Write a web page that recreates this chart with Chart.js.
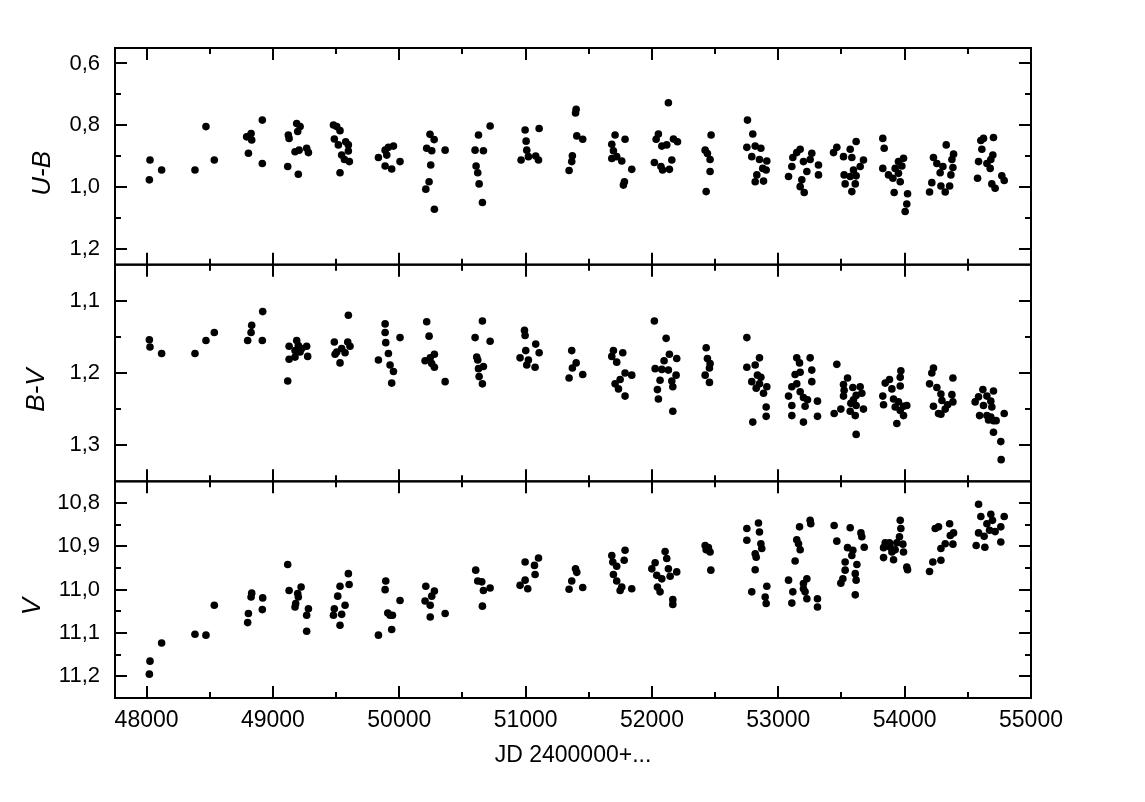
<!DOCTYPE html>
<html>
<head>
<meta charset="utf-8">
<title>U-B, B-V, V</title>
<script src="https://cdn.jsdelivr.net/npm/chart.js@4/dist/chart.umd.min.js"></script>
<style>
  html, body { margin: 0; padding: 0; background: #fff; }
  canvas { display: block; }
</style>
</head>
<body>
<canvas id="chart" width="1145" height="802"></canvas>
<script>
// tick labels
var jdTicks = [48000, 49000, 50000, 51000, 52000, 53000, 54000, 55000];
var ubTicks = [0.6, 0.8, 1.0, 1.2];
var bvTicks = [1.1, 1.2, 1.3];
var vTicks = [10.8, 10.9, 11.0, 11.1, 11.2];

// U-B
var ubJD = [
  48022, 48027, 48119, 48383, 48470, 48536,
  48792, 48806, 48827, 48832, 48916, 48916,
  49117, 49122, 49128, 49175, 49188, 49196, 49201, 49207, 49215, 49267, 49281,
  49479, 49486, 49505, 49518, 49531, 49531, 49544, 49566, 49576, 49597, 49597, 49605,
  49835, 49888, 49888, 49901, 49914, 49940, 49954, 50006,
  50210, 50217, 50236, 50243, 50249, 50257, 50276, 50278, 50363,
  50600, 50608, 50621, 50627, 50632, 50658, 50666, 50719,
  50964, 50996, 51004, 51009, 51022, 51080, 51102, 51107,
  51344, 51365, 51370, 51395, 51400, 51405, 51452,
  51682, 51682, 51695, 51708, 51721, 51761, 51774, 51782, 51787, 51840,
  52019, 52033, 52051, 52071, 52078, 52084, 52117, 52130, 52138, 52157, 52170, 52202,
  52421, 52429, 52439, 52460, 52460, 52468,
  52751, 52756, 52790, 52798, 52817, 52817, 52830, 52851, 52862, 52877, 52883, 52904, 52909,
  53081, 53107, 53115, 53146, 53173, 53173, 53186, 53199, 53205, 53226, 53252, 53265, 53318, 53318,
  53437, 53463, 53516, 53521, 53529, 53569, 53569, 53582, 53582, 53595, 53609, 53616, 53616, 53648, 53674,
  53827, 53827, 53838, 53872, 53907, 53917, 53925, 53951, 53951, 53965, 53978, 53991, 54004, 54017, 54023,
  54197, 54215, 54228, 54255, 54281, 54287, 54303, 54321, 54329, 54356, 54366, 54374, 54382, 54387,
  54577, 54585, 54603, 54611, 54624, 54651, 54677, 54682, 54690, 54698, 54703, 54716, 54769, 54788
];
var ubMag = [
  0.976, 0.912, 0.944, 0.944, 0.804, 0.912,
  0.837, 0.890, 0.826, 0.847, 0.783, 0.923,
  0.933, 0.831, 0.842, 0.885, 0.794, 0.820, 0.958, 0.880, 0.804, 0.874, 0.888,
  0.799, 0.844, 0.804, 0.863, 0.817, 0.953, 0.896, 0.910, 0.853, 0.863, 0.883, 0.917,
  0.904, 0.880, 0.931, 0.896, 0.871, 0.941, 0.867, 0.917,
  1.006, 0.874, 0.982, 0.829, 0.928, 0.882, 0.846, 1.071, 0.880,
  0.880, 0.931, 0.953, 0.831, 0.989, 1.049, 0.882, 0.802,
  0.912, 0.815, 0.851, 0.880, 0.901, 0.899, 0.912, 0.810,
  0.946, 0.917, 0.898, 0.760, 0.748, 0.834, 0.845,
  0.861, 0.907, 0.882, 0.831, 0.901, 0.915, 0.993, 0.982, 0.845, 0.942,
  0.920, 0.845, 0.828, 0.933, 0.867, 0.944, 0.863, 0.727, 0.942, 0.912, 0.844, 0.853,
  0.880, 1.014, 0.891, 0.910, 0.949, 0.831,
  0.871, 0.783, 0.901, 0.828, 0.867, 0.982, 0.960, 0.910, 0.874, 0.939, 0.980, 0.944, 0.915,
  0.965, 0.933, 0.904, 0.888, 0.877, 0.998, 0.976, 0.917, 1.017, 0.949, 0.910, 0.890, 0.928, 0.960,
  0.888, 0.871, 0.901, 0.960, 0.989, 0.877, 0.965, 0.904, 1.014, 0.944, 0.989, 0.852, 0.963, 0.933, 0.912,
  0.842, 0.939, 0.874, 0.960, 0.971, 1.017, 0.939, 0.917, 0.955, 0.982, 0.931, 0.906, 1.078, 1.054, 1.021,
  1.015, 0.985, 0.904, 0.923, 0.953, 0.996, 0.933, 1.015, 0.863, 0.996, 0.960, 0.910, 0.936, 0.893,
  0.971, 0.917, 0.849, 0.877, 0.842, 0.923, 0.939, 0.910, 0.989, 0.896, 0.839, 1.003, 0.963, 0.978
];

// B-V
var bvJD = [
  48022, 48027, 48119, 48383, 48470, 48536,
  48800, 48827, 48832, 48916, 48919,
  49117, 49128, 49128, 49175, 49175, 49188, 49201, 49215, 49228, 49267, 49275,
  49486, 49492, 49505, 49531, 49544, 49571, 49592, 49597, 49610,
  49835, 49888, 49888, 49893, 49914, 49927, 49940, 49954, 50006,
  50204, 50217, 50236, 50245, 50257, 50278, 50278, 50363,
  50600, 50613, 50621, 50627, 50632, 50658, 50658, 50666, 50719,
  50956, 50991, 50996, 51001, 51009, 51022, 51075, 51080, 51107,
  51344, 51365, 51370, 51400, 51452,
  51682, 51695, 51708, 51721, 51735, 51748, 51769, 51787, 51787, 51840,
  52019, 52025, 52043, 52051, 52064, 52078, 52096, 52112, 52130, 52138, 52157, 52165, 52165, 52191, 52196,
  52421, 52429, 52439, 52455, 52455, 52460,
  52751, 52751, 52790, 52798, 52817, 52825, 52835, 52851, 52851, 52862, 52883, 52904, 52904, 52909,
  53081, 53107, 53107, 53107, 53133, 53146, 53146, 53168, 53173, 53173, 53199, 53199, 53212, 53231, 53252, 53265, 53265, 53310, 53310,
  53442, 53463, 53495, 53516, 53516, 53521, 53548, 53569, 53574, 53590, 53595, 53609, 53616, 53616, 53616, 53648, 53661, 53674,
  53827, 53833, 53846, 53880, 53899, 53912, 53925, 53938, 53951, 53965, 53965, 53965, 53970, 53991, 53991, 54017,
  54197, 54215, 54228, 54228, 54255, 54268, 54287, 54287, 54295, 54321, 54340, 54374, 54382, 54382,
  54558, 54585, 54593, 54619, 54624, 54651, 54651, 54664, 54682, 54682, 54690, 54703, 54703, 54703, 54724, 54761, 54764, 54788
];
var bvMag = [
  1.154, 1.164, 1.173, 1.173, 1.155, 1.144,
  1.155, 1.144, 1.134, 1.155, 1.115,
  1.211, 1.163, 1.181, 1.169, 1.178, 1.155, 1.162, 1.171, 1.166, 1.163, 1.177,
  1.157, 1.174, 1.171, 1.186, 1.166, 1.172, 1.157, 1.120, 1.163,
  1.182, 1.132, 1.144, 1.158, 1.173, 1.189, 1.214, 1.198, 1.151,
  1.183, 1.129, 1.149, 1.179, 1.187, 1.174, 1.192, 1.212,
  1.151, 1.178, 1.182, 1.194, 1.205, 1.128, 1.215, 1.191, 1.156,
  1.179, 1.141, 1.148, 1.169, 1.189, 1.182, 1.192, 1.160, 1.172,
  1.207, 1.169, 1.193, 1.186, 1.202,
  1.177, 1.169, 1.215, 1.185, 1.222, 1.209, 1.172, 1.200, 1.232, 1.203,
  1.128, 1.194, 1.223, 1.236, 1.210, 1.195, 1.183, 1.152, 1.196, 1.174, 1.211, 1.219, 1.253, 1.203, 1.180,
  1.203, 1.165, 1.180, 1.193, 1.213, 1.187,
  1.151, 1.192, 1.212, 1.268, 1.189, 1.221, 1.203, 1.179, 1.215, 1.206, 1.228, 1.247, 1.260, 1.219,
  1.232, 1.219, 1.245, 1.259, 1.202, 1.179, 1.215, 1.186, 1.199, 1.226, 1.234, 1.268, 1.246, 1.237, 1.179, 1.196, 1.212, 1.239, 1.260,
  1.256, 1.188, 1.250, 1.216, 1.232, 1.224, 1.207, 1.253, 1.242, 1.220, 1.237, 1.259, 1.231, 1.245, 1.285, 1.219, 1.228, 1.250,
  1.232, 1.244, 1.214, 1.209, 1.222, 1.236, 1.247, 1.270, 1.240, 1.206, 1.218, 1.252, 1.197, 1.246, 1.259, 1.245,
  1.215, 1.200, 1.193, 1.246, 1.220, 1.256, 1.229, 1.257, 1.238, 1.250, 1.244, 1.230, 1.207, 1.240,
  1.240, 1.233, 1.259, 1.223, 1.245, 1.232, 1.259, 1.265, 1.239, 1.261, 1.247, 1.225, 1.266, 1.282, 1.266, 1.295, 1.320, 1.256
];

// V
var vJD = [
  48022, 48027, 48119, 48383, 48470, 48536,
  48800, 48806, 48827, 48832, 48916, 48919,
  49117, 49128, 49175, 49180, 49196, 49201, 49223, 49267, 49267, 49281,
  49479, 49486, 49513, 49531, 49531, 49544, 49571, 49597, 49603,
  49835, 49888, 49893, 49909, 49927, 49940, 49946, 50006,
  50204, 50210, 50245, 50245, 50257, 50278, 50363,
  50605, 50621, 50653, 50658, 50666, 50719,
  50956, 50996, 50996, 51017, 51070, 51075, 51102,
  51344, 51365, 51395, 51405, 51452,
  51682, 51690, 51695, 51721, 51721, 51748, 51761, 51780, 51787, 51840,
  51999, 52025, 52038, 52043, 52064, 52078, 52104, 52117, 52130, 52144, 52165, 52165, 52196,
  52421, 52429, 52447, 52460, 52466,
  52751, 52751, 52790, 52817, 52817, 52825, 52843, 52851, 52862, 52869, 52896, 52904, 52909,
  53081, 53107, 53115, 53133, 53146, 53160, 53168, 53173, 53199, 53199, 53212, 53226, 53226, 53252, 53257, 53310, 53310,
  53442, 53463, 53495, 53511, 53529, 53529, 53548, 53569, 53582, 53590, 53609, 53609, 53616, 53622, 53654, 53661, 53680,
  53833, 53833, 53846, 53880, 53886, 53899, 53912, 53925, 53938, 53959, 53965, 53970, 53986, 53991, 54017, 54023,
  54197, 54223, 54242, 54268, 54287, 54287, 54321, 54356, 54361, 54382, 54387,
  54566, 54585, 54585, 54603, 54629, 54635, 54651, 54672, 54682, 54695, 54716, 54761, 54761, 54788
];
var vMag = [
  11.195, 11.165, 11.123, 11.103, 11.105, 11.036,
  11.076, 11.055, 11.017, 11.008, 11.046, 11.019,
  10.942, 11.002, 11.040, 11.032, 11.009, 11.017, 10.994, 11.059, 11.096, 11.044,
  11.059, 11.044, 11.015, 10.992, 11.082, 11.057, 11.036, 10.963, 10.988,
  11.105, 11.000, 10.980, 11.054, 11.059, 11.092, 11.059, 11.025,
  11.026, 10.992, 11.036, 11.063, 11.015, 11.003, 11.055,
  10.955, 10.980, 10.982, 11.038, 11.002, 10.996,
  10.990, 10.936, 10.978, 10.998, 10.944, 10.965, 10.927,
  10.999, 10.980, 10.952, 10.960, 10.995,
  10.921, 10.936, 10.965, 10.946, 10.980, 11.002, 10.994, 10.932, 10.909, 10.998,
  10.952, 10.938, 10.967, 10.994, 11.005, 10.975, 10.912, 10.928, 10.952, 10.969, 11.023, 11.034, 10.959,
  10.898, 10.908, 10.903, 10.913, 10.955,
  10.859, 10.886, 11.005, 10.917, 10.954, 10.925, 10.846, 10.867, 10.894, 10.905, 11.017, 11.032, 10.992,
  10.978, 11.031, 11.005, 10.934, 10.885, 10.894, 10.855, 10.908, 10.986, 10.998, 11.005, 10.975, 11.021, 10.840, 10.848, 11.021, 11.040,
  10.852, 10.888, 10.985, 10.975, 10.936, 10.955, 10.903, 10.857, 10.921, 10.909, 10.963, 11.012, 10.978, 10.942, 10.869, 10.878, 10.902,
  10.903, 10.926, 10.892, 10.892, 10.902, 10.913, 10.931, 10.908, 10.892, 10.878, 10.840, 10.859, 10.895, 10.913, 10.948, 10.954,
  10.958, 10.936, 10.859, 10.855, 10.905, 10.932, 10.894, 10.848, 10.875, 10.895, 10.869,
  10.898, 10.803, 10.869, 10.831, 10.877, 10.902, 10.848, 10.863, 10.826, 10.840, 10.866, 10.855, 10.890, 10.831
];

var FONT = '"Liberation Sans", Arial, sans-serif';

var toPoints = function (xs, ys) {
    var n = Math.min(xs.length, ys.length);
    var out = [];
    for (let i = 0; i < n; i++) out.push({ x: xs[i], y: ys[i] });
    return out;
};

var midpoints = function (vals) {
    var out = [];
    for (let i = 1; i < vals.length; i++) out.push((vals[i - 1] + vals[i]) / 2);
    return out;
};

var fixTicks = function (vals) {
    return function (scale) {
        scale.ticks = vals.map(function (v) { return { value: v }; });
    };
};

var comma = function (v) { return Number(v).toFixed(1).replace('.', ','); };

var panels = [
    { id: 'yUB', title: 'U-B', ticks: ubTicks, titleX: 43 },
    { id: 'yBV', title: 'B-V', ticks: bvTicks, titleX: 37 },
    { id: 'yV', title: 'V', ticks: vTicks, titleX: 33 }
];

var yScale = function (min, max, ticks, weight) {
    return {
        type: 'linear', position: 'left', stack: 'panels', stackWeight: 1, weight: weight,
        reverse: true, min: min, max: max,
        grid: { display: false, drawTicks: false }, border: { display: false },
        afterBuildTicks: fixTicks(ticks),
        afterFit: function (s) { s.width = 115; },
        ticks: { color: '#000', font: { family: FONT, size: 22 }, padding: 15, callback: comma }
    };
};

// frame, inward ticks and y titles
var framePlugin = {
    id: 'frame',
    afterDatasetsDraw: function (chart) {
        var ctx = chart.ctx;
        var xs = chart.scales.x;
        var left = chart.chartArea.left, right = chart.chartArea.right;
        var jdMinor = midpoints(jdTicks);
        ctx.save();
        ctx.strokeStyle = '#000';
        ctx.lineWidth = 2;
        ctx.beginPath();
        for (let p of panels) {
            var s = chart.scales[p.id];
            var top = s.top, bottom = s.bottom;
            var seg = function (x1, y1, x2, y2) { ctx.moveTo(x1, y1); ctx.lineTo(x2, y2); };
            for (let v of jdTicks) {
                var px = Math.round(xs.getPixelForValue(v));
                seg(px, top, px, top + 12); seg(px, bottom, px, bottom - 12);
            }
            for (let v of jdMinor) {
                var px2 = Math.round(xs.getPixelForValue(v));
                seg(px2, top, px2, top + 6); seg(px2, bottom, px2, bottom - 6);
            }
            for (let v of p.ticks) {
                var py = Math.round(s.getPixelForValue(v));
                seg(left, py, left + 12, py); seg(right, py, right - 12, py);
            }
            for (let v of midpoints(p.ticks)) {
                var py2 = Math.round(s.getPixelForValue(v));
                seg(left, py2, left + 6, py2); seg(right, py2, right - 6, py2);
            }
        }
        ctx.stroke();
        for (let p of panels) {
            var sc = chart.scales[p.id];
            ctx.strokeRect(left, sc.top, right - left, sc.bottom - sc.top);
            ctx.save();
            ctx.fillStyle = '#000';
            ctx.font = 'italic 26px ' + FONT;
            ctx.textAlign = 'center';
            ctx.textBaseline = 'middle';
            ctx.translate(p.titleX, (sc.top + sc.bottom) / 2 + 17);
            ctx.rotate(-Math.PI / 2);
            ctx.fillText(p.title, 0, 0);
            ctx.restore();
        }
        ctx.restore();
    }
};

var dotStyle = { backgroundColor: '#000', borderWidth: 0, pointRadius: 3.8, pointHoverRadius: 3.8 };

var lightCurve = new Chart(document.getElementById('chart'), {
    type: 'scatter',
    data: {
        datasets: [
            Object.assign({ label: 'U-B', data: toPoints(ubJD, ubMag), yAxisID: 'yUB' }, dotStyle),
            Object.assign({ label: 'B-V', data: toPoints(bvJD, bvMag), yAxisID: 'yBV' }, dotStyle),
            Object.assign({ label: 'V', data: toPoints(vJD, vMag), yAxisID: 'yV' }, dotStyle)
        ]
    },
    options: {
        responsive: false,
        animation: false,
        devicePixelRatio: 1,
        events: [],
        layout: { padding: { left: 0, right: 114, top: 48, bottom: 0 } },
        plugins: { legend: { display: false }, tooltip: { enabled: false } },
        scales: {
            x: {
                type: 'linear', position: 'bottom', min: 47750, max: 55000,
                grid: { display: false, drawTicks: false }, border: { display: false },
                afterBuildTicks: fixTicks(jdTicks),
                afterFit: function (s) { s.height = 104; },
                ticks: {
                    color: '#000', font: { family: FONT, size: 23 }, padding: 9,
                    maxRotation: 0, autoSkip: false,
                    callback: function (v) { return String(v); }
                },
                title: {
                    display: true, text: 'JD 2400000+...', color: '#000',
                    font: { family: FONT, size: 23 }, padding: { top: 0, bottom: 33 }
                }
            },
            yUB: yScale(0.55, 1.25, ubTicks, 3),
            yBV: yScale(1.05, 1.35, bvTicks, 2),
            yV: yScale(10.75, 11.25, vTicks, 1)
        }
    },
    plugins: [framePlugin]
});
</script>
</body>
</html>
